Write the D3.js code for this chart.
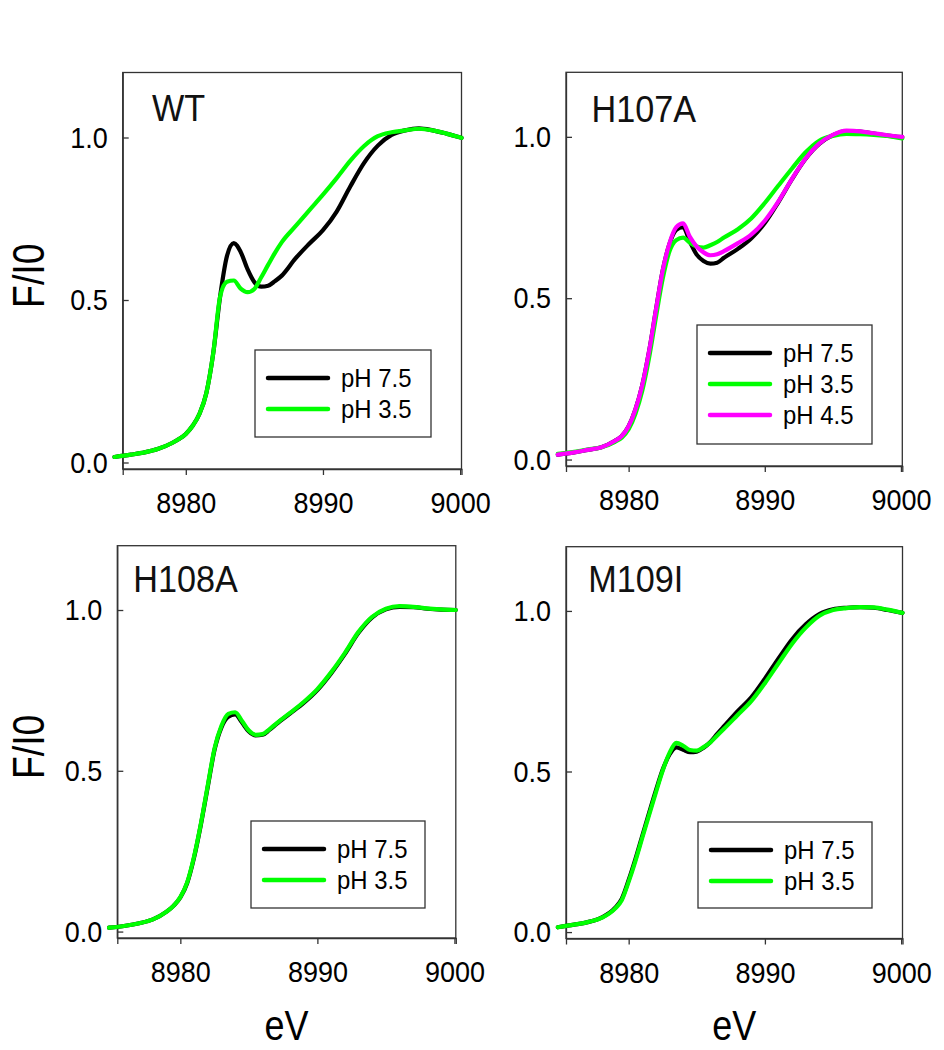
<!DOCTYPE html>
<html>
<head>
<meta charset="utf-8">
<script src="https://cdn.jsdelivr.net/npm/d3@7"></script>
<style>
  html, body { margin: 0; padding: 0; background: #fff; }
  svg { display: block; font-family: Arial, "Liberation Sans", sans-serif; }
</style>
</head>
<body>
<svg id="chart" width="944" height="1050"></svg>
<script>
// ---------- data ----------
const energy = [8974.8, 8976, 8977, 8978, 8979, 8979.5, 8980, 8980.5, 8981, 8981.5, 8982, 8982.5,
  8983, 8983.5, 8984, 8984.5, 8985, 8985.5, 8986, 8986.5, 8987, 8988, 8989, 8990, 8991, 8992,
  8993, 8994, 8995, 8996, 8997, 8998, 8999, 9000.1];

const wt_pH75 = [0.017, 0.024, 0.031, 0.042, 0.060, 0.072, 0.088, 0.113, 0.150, 0.214, 0.336, 0.510,
  0.635, 0.675, 0.648, 0.595, 0.555, 0.541, 0.544, 0.558, 0.575, 0.628, 0.673, 0.715, 0.772, 0.850,
  0.922, 0.975, 1.008, 1.022, 1.028, 1.022, 1.012, 0.999];
const wt_pH35 = [0.017, 0.024, 0.031, 0.042, 0.060, 0.072, 0.088, 0.113, 0.150, 0.214, 0.336, 0.510,
  0.556, 0.560, 0.535, 0.524, 0.534, 0.570, 0.608, 0.645, 0.678, 0.727, 0.776, 0.824, 0.875, 0.929,
  0.974, 1.004, 1.016, 1.022, 1.027, 1.022, 1.012, 0.999];

const h107a_pH75 = [0.015, 0.022, 0.030, 0.038, 0.058, 0.073, 0.103, 0.155, 0.230, 0.335, 0.462, 0.585,
  0.668, 0.712, 0.720, 0.675, 0.635, 0.615, 0.607, 0.610, 0.625, 0.652, 0.685, 0.733, 0.798, 0.869,
  0.932, 0.978, 1.005, 1.018, 1.016, 1.010, 1.004, 0.999];
const h107a_pH35 = [0.018, 0.024, 0.031, 0.038, 0.055, 0.068, 0.094, 0.142, 0.213, 0.315, 0.440, 0.560,
  0.645, 0.680, 0.688, 0.672, 0.660, 0.657, 0.664, 0.674, 0.688, 0.713, 0.747, 0.795, 0.849, 0.902,
  0.952, 0.988, 1.003, 1.009, 1.008, 1.006, 1.003, 0.995];
const h107a_pH45 = [0.015, 0.022, 0.030, 0.038, 0.058, 0.073, 0.103, 0.155, 0.230, 0.335, 0.462, 0.585,
  0.670, 0.720, 0.732, 0.690, 0.660, 0.642, 0.633, 0.636, 0.646, 0.670, 0.697, 0.740, 0.800, 0.870,
  0.933, 0.979, 1.006, 1.019, 1.017, 1.011, 1.005, 1.000];

const h108a_pH75 = [0.012, 0.018, 0.026, 0.038, 0.062, 0.080, 0.106, 0.151, 0.230, 0.333, 0.450, 0.566,
  0.635, 0.668, 0.675, 0.650, 0.622, 0.610, 0.612, 0.627, 0.645, 0.678, 0.711, 0.751, 0.803, 0.863,
  0.929, 0.977, 1.002, 1.010, 1.009, 1.004, 1.001, 1.000];
const h108a_pH35 = [0.012, 0.018, 0.026, 0.038, 0.062, 0.080, 0.107, 0.153, 0.233, 0.336, 0.454, 0.570,
  0.640, 0.677, 0.682, 0.655, 0.625, 0.612, 0.614, 0.629, 0.647, 0.680, 0.714, 0.754, 0.806, 0.866,
  0.932, 0.979, 1.004, 1.012, 1.010, 1.005, 1.002, 1.000];

const m109i_pH75 = [0.015, 0.023, 0.031, 0.045, 0.075, 0.104, 0.162, 0.228, 0.300, 0.371, 0.441, 0.506,
  0.553, 0.575, 0.568, 0.560, 0.562, 0.574, 0.592, 0.617, 0.641, 0.688, 0.731, 0.789, 0.852, 0.912,
  0.958, 0.990, 1.005, 1.010, 1.012, 1.010, 1.003, 0.994];
const m109i_pH35 = [0.015, 0.023, 0.031, 0.044, 0.073, 0.100, 0.157, 0.222, 0.294, 0.365, 0.435, 0.503,
  0.558, 0.589, 0.580, 0.567, 0.565, 0.576, 0.591, 0.612, 0.633, 0.676, 0.719, 0.775, 0.837, 0.898,
  0.948, 0.985, 1.003, 1.009, 1.012, 1.011, 1.004, 0.994];

const xTicks = [8980, 8990, 9000];
const yTicks = [0.0, 0.5, 1.0];
const xDomain = [8975.4, 9000.1];
const yDomain = [-0.02, 1.2];

const BLACK = "#000000", GREEN = "#00ff00", MAGENTA = "#ff00ff";

const panels = [
  { title: "WT", box: [122.7, 461.5, 72.5, 469], titlePos: [152, 121],
    series: [{ label: "pH 7.5", values: wt_pH75, color: BLACK }, { label: "pH 3.5", values: wt_pH35, color: GREEN }],
    legend: [255, 350, 176, 87], yLabel: true },
  { title: "H107A", box: [566, 902.3, 72.3, 466], titlePos: [591.5, 121.5],
    series: [{ label: "pH 7.5", values: h107a_pH75, color: BLACK }, { label: "pH 3.5", values: h107a_pH35, color: GREEN },
             { label: "pH 4.5", values: h107a_pH45, color: MAGENTA }],
    legend: [697, 325, 175, 119], yLabel: false },
  { title: "H108A", box: [117.3, 455.8, 545.7, 938], titlePos: [133.3, 591.5],
    series: [{ label: "pH 7.5", values: h108a_pH75, color: BLACK }, { label: "pH 3.5", values: h108a_pH35, color: GREEN }],
    legend: [251, 821, 174, 87], yLabel: true, xLabel: true },
  { title: "M109I", box: [566, 902.5, 546.7, 938.5], titlePos: [588.3, 591.5],
    series: [{ label: "pH 7.5", values: m109i_pH75, color: BLACK }, { label: "pH 3.5", values: m109i_pH35, color: GREEN }],
    legend: [698, 822, 174, 86], yLabel: false, xLabel: true }
];

const svg = d3.select("#chart");
const AXIS = "#333";
const FONT = "Arial, 'Liberation Sans', sans-serif";

panels.forEach(p => {
  const [L, R, T, B] = p.box;
  const x = d3.scaleLinear().domain(xDomain).range([L, R]);
  const y = d3.scaleLinear().domain(yDomain).range([B, T]);
  const g = svg.append("g");

  // frame
  g.append("rect").attr("x", L).attr("y", T).attr("width", R - L).attr("height", B - T)
    .attr("fill", "none").attr("stroke", AXIS).attr("stroke-width", 1.3);

  // x axis
  const xa = g.append("g").attr("transform", `translate(0,${B})`)
    .call(d3.axisBottom(x).tickValues(xTicks).tickSize(6).tickPadding(17).tickFormat(d3.format("d")));
  xa.select(".domain").attr("stroke", AXIS).attr("stroke-width", 1.3);
  xa.selectAll(".tick line").attr("stroke", AXIS).attr("stroke-width", 1.3);
  xa.selectAll(".tick text").attr("font-size", 30).attr("fill", "#000").attr("font-family", FONT)
    .attr("transform", "scale(0.9,1)");

  // y axis (ticks inward)
  const ya = g.append("g").attr("transform", `translate(${L},0)`)
    .call(d3.axisLeft(y).tickValues(yTicks).tickSizeInner(-6).tickSizeOuter(0).tickPadding(17).tickFormat(d3.format(".1f")));
  ya.select(".domain").attr("stroke", AXIS).attr("stroke-width", 1.3);
  ya.selectAll(".tick line").attr("stroke", AXIS).attr("stroke-width", 1.3);
  ya.selectAll(".tick text").attr("font-size", 30).attr("fill", "#000").attr("font-family", FONT)
    .attr("x", 0).attr("transform", "translate(-15,0) scale(0.9,1)");

  // curves
  const line = d3.line().x((d, i) => x(energy[i])).y(d => y(d)).curve(d3.curveMonotoneX);
  p.series.forEach(s => {
    g.append("path").datum(s.values).attr("d", line)
      .attr("fill", "none").attr("stroke", s.color).attr("stroke-width", 4.2)
      .attr("stroke-linejoin", "round").attr("stroke-linecap", "round");
  });

  // title
  g.append("text").attr("transform", `translate(${p.titlePos[0]},${p.titlePos[1]}) scale(0.95,1.05)`)
    .text(p.title).attr("font-size", 36).attr("fill", "#111");

  // legend
  const [lx, ly, lw, lh] = p.legend;
  const lg = g.append("g");
  lg.append("rect").attr("x", lx).attr("y", ly).attr("width", lw).attr("height", lh)
    .attr("fill", "#fff").attr("stroke", AXIS).attr("stroke-width", 1.3);
  p.series.forEach((s, i) => {
    const cy = ly + 28 + i * 31;
    lg.append("line").attr("x1", lx + 13).attr("x2", lx + 73).attr("y1", cy).attr("y2", cy)
      .attr("stroke", s.color).attr("stroke-width", 4.5).attr("stroke-linecap", "round");
    lg.append("text").attr("transform", `translate(${lx + 86},${cy}) scale(0.92,1)`)
      .attr("dy", "0.36em").text(s.label).attr("font-size", 26).attr("fill", "#000");
  });

  if (p.yLabel) {
    const cy = (T + B) / 2 + 5;
    g.append("text").attr("transform", `translate(44,${cy}) rotate(-90) scale(0.85,1)`)
      .attr("text-anchor", "middle").text("F/I0").attr("font-size", 44).attr("fill", "#000");
  }
  if (p.xLabel) {
    g.append("text").attr("transform", `translate(${(L + R) / 2},1040) scale(0.9,1.05)`)
      .attr("text-anchor", "middle").text("eV").attr("font-size", 40).attr("fill", "#000");
  }
});
</script>
</body>
</html>
